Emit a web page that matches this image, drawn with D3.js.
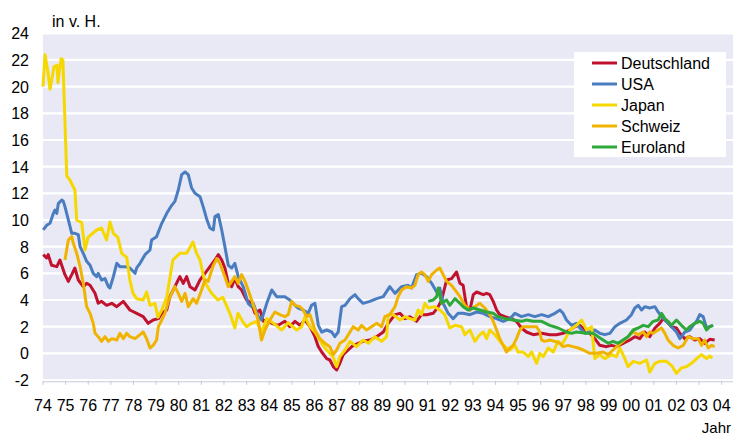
<!DOCTYPE html>
<html lang="de">
<head>
  <meta charset="UTF-8">
  <title>Inflation</title>
  <style>
    body, html {
      margin: 0;
      padding: 0;
      background: #fff;
    }
    svg text {
      font-family: "Liberation Sans", Arial, sans-serif;
      fill: #000;
    }
  </style>
</head>
<body>
  <svg id="svg" width="735" height="435"></svg>
  <script src="https://d3js.org/d3.v7.min.js"></script>
  <script>
    // values: [decimal year, rate in %]
    const deutschland = [[1974.01,7.4],[1974.16,7.15],[1974.23,7.4],[1974.38,6.6],[1974.61,6.5],[1974.75,7.0],[1974.97,5.9],[1975.12,5.4],[1975.27,5.9],[1975.41,6.4],[1975.56,5.5],[1975.78,5.0],[1975.93,5.25],[1976.08,5.1],[1976.30,4.5],[1976.44,3.75],[1976.59,3.9],[1976.81,3.6],[1977.04,3.75],[1977.26,3.5],[1977.55,3.9],[1977.84,3.25],[1978.14,3.0],[1978.43,2.75],[1978.65,2.25],[1978.87,2.5],[1979.10,2.6],[1979.25,3.0],[1979.47,3.25],[1979.61,4.25],[1979.83,5.0],[1980.05,5.75],[1980.20,5.25],[1980.35,5.75],[1980.50,5.0],[1980.72,4.75],[1980.94,5.5],[1981.16,6.0],[1981.38,6.5],[1981.60,7.0],[1981.75,7.4],[1981.90,7.0],[1982.04,6.4],[1982.19,5.25],[1982.34,5.0],[1982.48,5.6],[1982.63,5.0],[1982.78,4.75],[1983.00,4.0],[1983.22,3.75],[1983.37,3.0],[1983.59,3.25],[1983.74,2.4],[1983.89,2.5],[1984.11,2.25],[1984.40,2.1],[1984.69,2.4],[1984.91,2.0],[1985.14,2.4],[1985.36,2.1],[1985.58,2.5],[1985.80,2.0],[1986.02,1.25],[1986.17,0.5],[1986.32,0.1],[1986.54,-0.4],[1986.68,-0.5],[1986.83,-1.0],[1986.98,-1.25],[1987.12,-0.75],[1987.27,-0.1],[1987.49,0.25],[1987.71,0.6],[1987.93,0.75],[1988.15,0.9],[1988.45,1.0],[1988.75,1.25],[1989.04,1.6],[1989.26,2.25],[1989.56,2.9],[1989.78,3.0],[1990.00,2.6],[1990.22,2.75],[1990.51,2.4],[1990.73,2.9],[1990.96,2.9],[1991.25,3.0],[1991.47,3.5],[1991.62,4.0],[1991.84,5.5],[1992.06,5.6],[1992.28,6.1],[1992.43,5.25],[1992.57,5.1],[1992.72,3.5],[1992.87,3.25],[1993.02,4.4],[1993.17,4.6],[1993.46,4.4],[1993.61,4.5],[1993.75,4.4],[1993.90,3.9],[1994.05,3.25],[1994.19,2.9],[1994.42,2.75],[1994.71,2.6],[1994.93,2.4],[1995.15,1.9],[1995.37,1.6],[1995.67,1.4],[1996.04,1.5],[1996.40,1.4],[1996.70,1.4],[1996.99,1.5],[1997.29,1.75],[1997.51,2.0],[1997.73,2.1],[1997.95,1.75],[1998.17,1.5],[1998.39,1.1],[1998.61,0.6],[1998.91,0.5],[1999.13,0.6],[1999.35,0.5],[1999.64,0.75],[1999.94,1.0],[2000.16,1.25],[2000.38,1.1],[2000.60,1.6],[2000.82,1.25],[2001.05,1.9],[2001.26,2.25],[2001.41,2.6],[2001.56,2.4],[2001.78,2.0],[2002.00,1.9],[2002.15,1.5],[2002.37,1.1],[2002.59,1.25],[2002.81,1.0],[2003.03,1.1],[2003.25,0.75],[2003.47,1.05],[2003.69,1.0]]

    const usa = [[1974.01,9.25],[1974.16,9.6],[1974.31,9.75],[1974.46,10.5],[1974.53,10.75],[1974.61,10.5],[1974.68,11.25],[1974.83,11.5],[1974.90,11.4],[1974.97,11.0],[1975.12,10.0],[1975.27,9.0],[1975.41,9.0],[1975.56,8.9],[1975.64,8.0],[1975.78,7.5],[1975.93,6.9],[1976.08,6.6],[1976.22,6.0],[1976.37,5.75],[1976.44,6.0],[1976.59,5.5],[1976.74,5.6],[1976.89,5.0],[1976.96,4.9],[1977.11,5.75],[1977.26,6.75],[1977.40,6.5],[1977.62,6.5],[1977.84,6.4],[1978.07,6.0],[1978.14,6.4],[1978.29,6.75],[1978.51,7.4],[1978.73,7.75],[1978.80,8.5],[1979.02,8.75],[1979.25,9.75],[1979.47,10.5],[1979.69,11.1],[1979.83,11.4],[1979.98,12.25],[1980.13,13.4],[1980.28,13.6],[1980.42,13.4],[1980.57,12.4],[1980.72,12.0],[1980.94,11.75],[1981.08,11.0],[1981.23,10.1],[1981.38,9.4],[1981.53,9.25],[1981.60,10.25],[1981.75,10.4],[1981.90,9.25],[1982.04,8.0],[1982.19,6.6],[1982.34,6.4],[1982.48,6.75],[1982.63,5.75],[1982.85,5.0],[1983.07,3.75],[1983.22,3.5],[1983.29,3.75],[1983.51,2.75],[1983.66,2.5],[1983.89,3.75],[1984.11,4.75],[1984.33,4.25],[1984.69,4.25],[1984.91,4.0],[1985.14,3.6],[1985.28,3.4],[1985.50,3.25],[1985.72,3.0],[1985.87,3.6],[1986.02,3.75],[1986.17,2.1],[1986.32,1.6],[1986.54,1.75],[1986.76,1.6],[1986.90,1.25],[1987.05,1.6],[1987.20,3.5],[1987.35,3.6],[1987.57,4.1],[1987.79,4.4],[1987.93,4.1],[1988.15,3.75],[1988.45,3.9],[1988.75,4.1],[1989.04,4.25],[1989.33,5.0],[1989.56,4.5],[1989.85,5.0],[1990.14,5.1],[1990.29,4.9],[1990.51,5.9],[1990.73,6.0],[1990.96,5.75],[1991.18,5.25],[1991.40,4.6],[1991.54,4.9],[1991.69,3.75],[1991.91,3.0],[1992.13,2.6],[1992.35,3.0],[1992.57,3.0],[1992.87,2.9],[1993.17,3.1],[1993.46,3.0],[1993.75,2.75],[1994.05,2.6],[1994.34,2.4],[1994.64,2.6],[1994.86,3.0],[1995.15,2.75],[1995.45,2.9],[1995.74,2.75],[1996.04,2.9],[1996.33,2.75],[1996.63,3.0],[1996.85,3.25],[1996.99,3.0],[1997.14,2.5],[1997.36,2.1],[1997.58,2.25],[1997.73,1.9],[1997.95,1.5],[1998.17,1.6],[1998.39,1.75],[1998.61,1.5],[1998.83,1.4],[1999.06,1.5],[1999.28,2.0],[1999.50,2.25],[1999.79,2.5],[2000.01,2.9],[2000.16,3.4],[2000.31,3.6],[2000.46,3.25],[2000.60,3.5],[2000.82,3.4],[2001.05,3.5],[2001.19,3.1],[2001.34,2.75],[2001.56,2.4],[2001.78,2.0],[2002.00,1.6],[2002.15,1.1],[2002.37,1.6],[2002.59,1.75],[2002.74,2.1],[2002.89,2.4],[2003.03,2.9],[2003.18,2.75],[2003.33,1.9],[2003.47,2.0],[2003.62,2.1]]

    const japan = [[1974.00,20.0],[1974.09,22.4],[1974.22,21.1],[1974.31,19.8],[1974.49,21.5],[1974.62,21.6],[1974.66,20.3],[1974.80,22.1],[1974.88,22.0],[1975.05,13.3],[1975.19,13.0],[1975.41,12.25],[1975.49,10.0],[1975.71,9.8],[1975.86,7.75],[1975.99,8.7],[1976.37,9.25],[1976.59,9.4],[1976.81,8.5],[1976.96,9.85],[1977.11,9.0],[1977.31,8.7],[1977.48,7.5],[1977.70,7.2],[1977.84,5.5],[1977.98,4.5],[1978.14,4.1],[1978.43,4.0],[1978.58,4.6],[1978.73,3.6],[1978.95,3.75],[1979.08,2.7],[1979.25,3.25],[1979.47,4.2],[1979.74,7.0],[1980.05,7.5],[1980.35,7.5],[1980.63,8.35],[1980.79,7.5],[1980.94,7.0],[1981.16,5.3],[1981.45,4.5],[1981.73,4.0],[1981.95,4.2],[1982.26,3.0],[1982.48,1.9],[1982.62,3.0],[1982.84,2.35],[1983.00,2.0],[1983.22,2.25],[1983.44,2.4],[1983.66,1.6],[1983.89,2.6],[1984.16,2.3],[1984.55,1.75],[1984.83,2.3],[1985.21,1.75],[1985.43,2.0],[1985.58,2.75],[1985.80,2.0],[1986.02,1.6],[1986.32,0.75],[1986.54,0.25],[1986.82,-0.25],[1986.98,-1.0],[1987.12,-0.25],[1987.35,0.25],[1987.57,0.9],[1987.86,0.5],[1988.15,1.0],[1988.38,0.75],[1988.67,1.25],[1988.97,0.9],[1989.19,1.25],[1989.26,2.9],[1989.48,2.9],[1989.78,2.5],[1990.00,2.75],[1990.22,2.6],[1990.44,2.5],[1990.58,3.25],[1990.73,2.9],[1990.88,3.75],[1991.03,3.4],[1991.32,3.5],[1991.54,3.25],[1991.76,2.9],[1991.98,1.9],[1992.21,2.1],[1992.50,2.0],[1992.65,1.4],[1992.87,1.75],[1993.09,0.9],[1993.31,1.4],[1993.46,1.6],[1993.61,1.1],[1993.75,1.75],[1993.97,1.4],[1994.27,0.75],[1994.49,0.4],[1994.64,0.25],[1994.86,0.6],[1995.00,0.1],[1995.22,0.1],[1995.45,-0.25],[1995.60,0.1],[1995.82,-0.75],[1995.96,0.0],[1996.11,-0.25],[1996.33,0.4],[1996.55,0.1],[1996.77,0.9],[1996.92,0.6],[1997.14,1.25],[1997.29,1.75],[1997.58,2.1],[1997.81,2.5],[1998.03,1.75],[1998.25,2.0],[1998.39,-0.4],[1998.61,-0.1],[1998.83,-0.4],[1999.13,-0.1],[1999.35,-0.25],[1999.50,0.4],[1999.72,-0.4],[1999.86,-1.0],[2000.09,-0.6],[2000.38,-0.75],[2000.68,-0.5],[2000.82,-1.4],[2001.05,-0.75],[2001.26,-0.6],[2001.56,-0.6],[2001.78,-0.9],[2002.00,-1.5],[2002.22,-1.1],[2002.44,-1.0],[2002.67,-0.75],[2002.89,-0.4],[2003.11,-0.1],[2003.33,-0.4],[2003.47,-0.2],[2003.59,-0.35]]

    const schweiz = [[1974.97,7.0],[1975.12,8.5],[1975.27,8.75],[1975.34,8.25],[1975.49,7.5],[1975.64,6.5],[1975.78,5.25],[1975.93,3.5],[1976.08,3.0],[1976.22,2.25],[1976.30,1.5],[1976.44,1.25],[1976.59,0.9],[1976.74,1.25],[1976.89,0.9],[1977.04,1.1],[1977.26,1.0],[1977.40,1.5],[1977.55,1.1],[1977.70,1.5],[1977.84,1.25],[1978.07,1.1],[1978.29,1.4],[1978.43,1.6],[1978.58,1.1],[1978.73,0.4],[1978.87,0.6],[1979.02,1.0],[1979.10,2.0],[1979.25,2.5],[1979.39,3.0],[1979.54,3.9],[1979.69,4.5],[1979.83,5.0],[1979.98,4.5],[1980.13,3.9],[1980.28,4.5],[1980.42,3.5],[1980.64,4.1],[1980.79,3.75],[1981.01,4.75],[1981.16,5.5],[1981.30,5.4],[1981.53,6.6],[1981.68,7.1],[1981.82,6.75],[1982.04,5.75],[1982.19,5.0],[1982.34,5.4],[1982.48,5.75],[1982.63,5.25],[1982.78,5.9],[1982.93,5.4],[1983.07,4.75],[1983.22,4.0],[1983.37,3.25],[1983.51,2.5],[1983.66,1.0],[1983.81,1.75],[1984.03,2.5],[1984.25,3.1],[1984.47,2.9],[1984.69,2.75],[1984.84,2.9],[1984.99,3.9],[1985.14,3.6],[1985.36,3.5],[1985.50,3.25],[1985.65,2.75],[1985.80,2.9],[1986.02,1.75],[1986.24,1.1],[1986.46,0.75],[1986.68,0.5],[1986.83,-0.1],[1986.98,0.25],[1987.12,0.75],[1987.35,1.0],[1987.57,1.6],[1987.71,2.0],[1987.93,1.75],[1988.08,2.1],[1988.30,1.75],[1988.52,2.0],[1988.75,2.25],[1988.97,2.0],[1989.11,2.75],[1989.33,2.9],[1989.56,3.5],[1989.70,4.25],[1989.85,4.75],[1990.07,5.0],[1990.29,4.9],[1990.44,5.1],[1990.58,5.9],[1990.73,6.1],[1990.88,5.9],[1991.03,5.4],[1991.18,5.9],[1991.40,6.25],[1991.54,6.4],[1991.69,5.9],[1991.84,5.4],[1992.06,5.1],[1992.21,4.75],[1992.43,4.25],[1992.65,3.6],[1992.87,3.25],[1993.09,3.5],[1993.31,3.75],[1993.53,3.4],[1993.75,2.9],[1993.90,2.4],[1994.05,1.75],[1994.19,1.1],[1994.34,0.6],[1994.49,0.1],[1994.64,0.4],[1994.78,0.6],[1994.93,1.1],[1995.08,1.75],[1995.22,2.0],[1995.52,2.0],[1995.82,2.0],[1995.96,1.6],[1996.04,1.0],[1996.18,0.9],[1996.40,1.0],[1996.63,0.9],[1996.85,0.75],[1996.99,0.5],[1997.21,0.6],[1997.43,0.5],[1997.66,0.4],[1997.88,0.25],[1998.17,0.0],[1998.47,0.0],[1998.76,0.1],[1998.98,-0.1],[1999.20,0.25],[1999.42,0.6],[1999.64,0.9],[1999.86,1.25],[2000.09,1.6],[2000.31,1.4],[2000.53,1.6],[2000.68,1.25],[2000.82,1.6],[2000.97,1.5],[2001.19,1.75],[2001.34,1.9],[2001.49,1.5],[2001.63,1.0],[2001.85,0.6],[2002.07,0.4],[2002.30,0.6],[2002.52,1.25],[2002.74,1.1],[2002.96,1.1],[2003.11,0.6],[2003.25,1.0],[2003.40,0.4],[2003.55,0.6],[2003.69,0.5]]

    const euroland = [[1991.03,3.9],[1991.25,4.0],[1991.40,4.25],[1991.47,4.9],[1991.62,3.75],[1991.84,4.0],[1991.98,3.6],[1992.21,4.1],[1992.43,3.75],[1992.57,3.5],[1992.79,3.25],[1993.02,3.4],[1993.31,3.25],[1993.61,3.1],[1993.90,3.0],[1994.12,2.75],[1994.42,2.6],[1994.78,2.5],[1995.15,2.4],[1995.37,2.5],[1995.67,2.4],[1996.04,2.4],[1996.40,2.1],[1996.77,1.9],[1997.14,1.6],[1997.36,1.5],[1997.58,1.6],[1998.03,1.5],[1998.32,1.5],[1998.54,1.25],[1998.76,1.0],[1998.98,0.75],[1999.20,0.9],[1999.42,0.75],[1999.64,1.0],[1999.86,1.25],[2000.09,1.75],[2000.31,1.9],[2000.53,2.1],[2000.75,2.0],[2000.97,2.4],[2001.19,2.5],[2001.34,3.0],[2001.49,2.6],[2001.63,2.4],[2001.78,2.1],[2002.00,2.5],[2002.22,2.1],[2002.44,1.75],[2002.59,2.0],[2002.81,2.25],[2003.03,2.4],[2003.18,2.25],[2003.33,1.75],[2003.47,2.0],[2003.62,2.1]]

    const seriesNames = ['Deutschland', 'USA', 'Japan', 'Schweiz', 'Euroland']
    const seriesValues = [deutschland, usa, japan, schweiz, euroland]
    const seriesColors = ['#c0122e', '#4a7dc0', '#f6d800', '#f0b400', '#2fa83a']

    const yTicks = [-2, 0, 2, 4, 6, 8, 10, 12, 14, 16, 18, 20, 22, 24]
    const xTicks = d3.range(1974, 2005)

    const svg = d3.select('#svg')

    const x = d3.scaleLinear().domain([1974, 2004.5]).range([43, 733])
    const y = d3.scaleLinear().domain([-2, 24]).range([380, 33.3])

    // plot background
    svg.append('rect')
      .attr('x', x(1974)).attr('y', y(24))
      .attr('width', x(2004.5) - x(1974)).attr('height', y(-2) - y(24))
      .attr('fill', '#e8e9f4')

    // white grid lines
    svg.append('g')
      .selectAll('line')
      .data(yTicks)
      .join('line')
      .attr('x1', x(1974)).attr('x2', x(2004.5))
      .attr('y1', d => y(d)).attr('y2', d => y(d))
      .attr('stroke', '#fff')
      .attr('stroke-width', 2.2)

    // y labels
    svg.append('g')
      .selectAll('text')
      .data(yTicks)
      .join('text')
      .attr('x', 29)
      .attr('y', d => y(d) + 6)
      .attr('text-anchor', 'end')
      .style('font-size', '16px')
      .text(d => d)

    // x axis
    const xAxisY = y(-2) + 1.8
    svg.append('line')
      .attr('x1', x(1974)).attr('x2', x(2004.5))
      .attr('y1', xAxisY).attr('y2', xAxisY)
      .attr('stroke', '#c6c7de')
      .attr('stroke-width', 1)

    svg.append('g')
      .selectAll('line')
      .data(xTicks)
      .join('line')
      .attr('x1', d => x(d)).attr('x2', d => x(d))
      .attr('y1', xAxisY - 1).attr('y2', xAxisY + 3)
      .attr('stroke', '#c6c7de')

    svg.append('g')
      .selectAll('text')
      .data(xTicks)
      .join('text')
      .attr('x', d => x(d))
      .attr('y', 411)
      .attr('text-anchor', 'middle')
      .style('font-size', '16px')
      .text(d => String(d % 100).padStart(2, '0'))

    svg.append('text')
      .attr('x', 731).attr('y', 433)
      .attr('text-anchor', 'end')
      .style('font-size', '15px')
      .text('Jahr')

    svg.append('text')
      .attr('x', 52).attr('y', 26.5)
      .style('font-size', '16px')
      .text('in v. H.')

    // lines
    const line = d3.line()
      .x(d => x(d[0]))
      .y(d => y(d[1]))

    svg.append('g')
      .selectAll('path')
      .data(seriesValues)
      .join('path')
      .attr('d', line)
      .attr('fill', 'none')
      .attr('stroke', (d, i) => seriesColors[i])
      .attr('stroke-width', 3)
      .attr('stroke-linejoin', 'round')

    // legend
    const legend = svg.append('g')
    legend.append('rect')
      .attr('x', 574).attr('y', 52)
      .attr('width', 152).attr('height', 105)
      .attr('fill', '#fff')

    const items = legend.selectAll('g')
      .data(seriesNames)
      .join('g')
      .attr('transform', (d, i) => `translate(592, ${63 + i * 21})`)

    items.append('line')
      .attr('x1', 0).attr('x2', 25)
      .attr('stroke', (d, i) => seriesColors[i])
      .attr('stroke-width', 3)

    items.append('text')
      .attr('x', 29).attr('y', 6)
      .style('font-size', '16px')
      .text(d => d)
  </script>
</body>
</html>
